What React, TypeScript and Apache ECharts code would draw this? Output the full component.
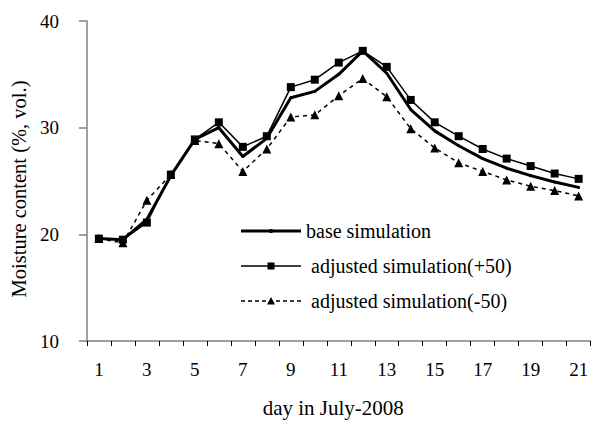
import React, { useEffect, useRef } from "react";
import * as echarts from "echarts";

const days = ["1","2","3","4","5","6","7","8","9","10","11","12","13","14","15","16","17","18","19","20","21"];
const baseSim = [19.6, 19.5, 21.4, 25.5, 28.9, 30.0, 27.3, 29.0, 32.8, 33.4, 35.0, 37.2, 35.1, 31.7, 29.7, 28.3, 27.1, 26.2, 25.5, 24.9, 24.4];
const adjPlus = [19.6, 19.5, 21.1, 25.6, 28.9, 30.5, 28.2, 29.2, 33.8, 34.5, 36.1, 37.2, 35.7, 32.6, 30.5, 29.2, 28.0, 27.1, 26.4, 25.7, 25.2];
const adjMinus = [19.6, 19.2, 23.2, 25.6, 28.8, 28.5, 25.9, 28.0, 31.0, 31.2, 33.0, 34.6, 32.9, 29.9, 28.1, 26.7, 25.9, 25.1, 24.5, 24.1, 23.6];
const seriesNames = ["base simulation", "adjusted simulation(+50)", "adjusted simulation(-50)"];

const FONT = "'Liberation Serif', 'Times New Roman', serif";
const AXIS_GRAY = "#808080";

// legend icons drawn in a 60 x 12 box (the leading moves fix the bounding box)
const ICON_BASE = "path://M0 0M60 12M0 4.5L60 4.5L60 7.5L0 7.5ZM28.5 4L31.5 4L31.5 8L28.5 8Z";
const ICON_PLUS = "path://M0 0M60 12M0 5.25L60 5.25L60 6.75L0 6.75ZM26.5 2.5L33.5 2.5L33.5 9.5L26.5 9.5Z";
const ICON_MINUS =
  "path://M0 0M60 12" +
  "M0 5.25L4 5.25L4 6.75L0 6.75Z" +
  "M7 5.25L11 5.25L11 6.75L7 6.75Z" +
  "M14 5.25L18 5.25L18 6.75L14 6.75Z" +
  "M21 5.25L25 5.25L25 6.75L21 6.75Z" +
  "M30 2L34 9.5L26 9.5Z" +
  "M35 5.25L39 5.25L39 6.75L35 6.75Z" +
  "M42 5.25L46 5.25L46 6.75L42 6.75Z" +
  "M49 5.25L53 5.25L53 6.75L49 6.75Z" +
  "M56 5.25L60 5.25L60 6.75L56 6.75Z";

export default function App() {
  const ref = useRef<HTMLDivElement>(null);
  useEffect(() => {
    if (!ref.current) return;
    const chart = echarts.init(ref.current, undefined, { renderer: "svg" });
    chart.setOption({
      animation: false,
      backgroundColor: "#ffffff",
      textStyle: { fontFamily: FONT, color: "#000" },
      grid: { left: 83, top: 21, width: 510, height: 323 },
      legend: {
        orient: "vertical",
        left: 241,
        top: 221,
        padding: 0,
        itemWidth: 60,
        itemHeight: 12,
        itemGap: 15,
        itemStyle: { color: "#000", borderWidth: 0 },
        formatter: (n: string) => (n === seriesNames[0] ? n : " " + n),
        textStyle: { fontFamily: FONT, fontSize: 20, color: "#000", lineHeight: 20 },
        data: [
          { name: seriesNames[0], icon: ICON_BASE },
          { name: seriesNames[1], icon: ICON_PLUS },
          { name: seriesNames[2], icon: ICON_MINUS },
        ],
      },
      xAxis: {
        type: "category",
        data: days,
        boundaryGap: true,
        name: "day in July-2008",
        nameLocation: "middle",
        nameGap: 56,
        nameTextStyle: { fontFamily: FONT, fontSize: 21, color: "#000", padding: [0, 11, 0, 0] },
        axisLine: { lineStyle: { color: AXIS_GRAY, width: 1.5 } },
        axisTick: { show: true, length: 5, interval: 0, lineStyle: { color: "#000", width: 1 } },
        axisLabel: { interval: 1, margin: 19, fontFamily: FONT, fontSize: 19, color: "#000" },
        splitLine: { show: false },
      },
      yAxis: {
        type: "value",
        min: 10,
        max: 40,
        interval: 10,
        name: "Moisture content (%, vol.)",
        nameLocation: "middle",
        nameGap: 50,
        nameTextStyle: { fontFamily: FONT, fontSize: 20.5, color: "#000", padding: [0, 16, 0, 0] },
        axisLine: { show: true, lineStyle: { color: AXIS_GRAY, width: 1.5 } },
        axisTick: { show: true, length: 8, lineStyle: { color: AXIS_GRAY, width: 1.5 } },
        axisLabel: { margin: 28, fontFamily: FONT, fontSize: 19, color: "#000" },
        splitLine: { show: false },
      },
      series: [
        {
          name: seriesNames[0],
          type: "line",
          data: baseSim,
          symbol: "circle",
          symbolSize: 3,
          itemStyle: { color: "#000" },
          lineStyle: { color: "#000", width: 3 },
          z: 3,
        },
        {
          name: seriesNames[1],
          type: "line",
          data: adjPlus,
          symbol: "rect",
          symbolSize: 8,
          itemStyle: { color: "#000" },
          lineStyle: { color: "#000", width: 1.5 },
          z: 2,
        },
        {
          name: seriesNames[2],
          type: "line",
          data: adjMinus,
          symbol: "triangle",
          symbolSize: 9,
          itemStyle: { color: "#000" },
          lineStyle: { color: "#000", width: 1.5, type: [4, 4] },
          z: 1,
        },
      ],
    });
    return () => chart.dispose();
  }, []);
  return <div ref={ref} style={{ width: 591, height: 423, position: "absolute", left: 0, top: 0 }} />;
}
